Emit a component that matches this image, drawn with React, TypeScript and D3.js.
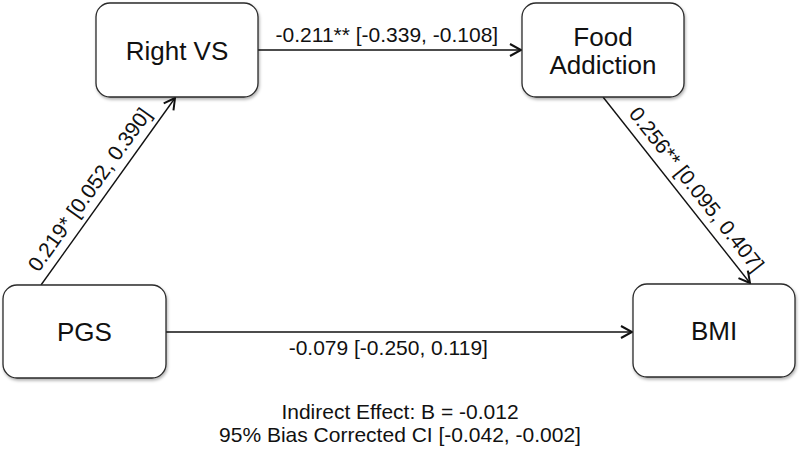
import React from "react";
import * as d3 from "d3";

// ---- data ----
const nodeIds = ["rvs", "fa", "pgs", "bmi"];
const nodeLabels = [["Right VS"], ["Food", "Addiction"], ["PGS"], ["BMI"]];
const edgeFrom = ["pgs", "rvs", "fa", "pgs"];
const edgeTo = ["rvs", "fa", "bmi", "bmi"];
const edgeLabels = [
  "0.219* [0.052, 0.390]",
  "-0.211** [-0.339, -0.108]",
  "0.256** [0.095, 0.407]",
  "-0.079 [-0.250, 0.119]",
];
const footnote = ["Indirect Effect: B = -0.012", "95% Bias Corrected CI [-0.042, -0.002]"];

// ---- layout ----
const W = 800, H = 451;
const boxes: Record<string, { x: number; y: number; w: number; h: number }> = {
  rvs: { x: 96, y: 3, w: 162, h: 94 },
  fa: { x: 522, y: 3, w: 162, h: 94 },
  pgs: { x: 3, y: 285, w: 163, h: 93 },
  bmi: { x: 633, y: 284, w: 162, h: 93 },
};
const edgeGeom: { p: [number, number, number, number]; t: number; off: number; rotate: boolean }[] = [
  { p: [41, 285, 175, 98], t: 0.46, off: 9, rotate: true },
  { p: [258, 50, 521, 50], t: 0.49, off: 8, rotate: false },
  { p: [603, 97, 750, 283], t: 0.55, off: 9, rotate: true },
  { p: [166, 332, 632, 332], t: 0.477, off: -23, rotate: false },
];
const FONT = "'Liberation Sans', Arial, Helvetica, sans-serif";

export default function App() {
  const line = d3.line<[number, number]>();
  return (
    <svg width={W} height={H} style={{ display: "block", position: "absolute", left: 0, top: 0, background: "#fff" }}>
      <defs>
        <filter id="sh" x="-10%" y="-10%" width="130%" height="140%">
          <feDropShadow dx="1" dy="2" stdDeviation="1.5" floodColor="#000" floodOpacity="0.3" />
        </filter>
        <marker id="arr" markerUnits="userSpaceOnUse" markerWidth="16" markerHeight="16" refX="12" refY="7" orient="auto" viewBox="0 0 16 14">
          <path d="M1,1 L12,7 L1,13" fill="none" stroke="#111" strokeWidth="2" strokeLinejoin="miter" />
        </marker>
      </defs>
      <rect width={W} height={H} fill="#fff" />
      {edgeGeom.map((g, i) => {
        const [x1, y1, x2, y2] = g.p;
        return (
          <path key={"e" + i} d={line([[x1, y1], [x2, y2]]) || ""} stroke="#111" strokeWidth={1.4} fill="none" markerEnd="url(#arr)" />
        );
      })}
      {nodeIds.map((id, i) => {
        const b = boxes[id];
        const lines = nodeLabels[i];
        const cx = b.x + b.w / 2, cy = b.y + b.h / 2;
        const lh = 28;
        return (
          <g key={id}>
            <rect x={b.x} y={b.y} width={b.w} height={b.h} rx={14} ry={14} fill="#fff" stroke="#2a2a2a" strokeWidth={1.3} filter="url(#sh)" />
            {lines.map((t, j) => (
              <text key={j} x={cx} y={cy + 9.5 + (j - (lines.length - 1) / 2) * lh} textAnchor="middle" fontFamily={FONT} fontSize={26} fill="#111">
                {t}
              </text>
            ))}
          </g>
        );
      })}
      {edgeGeom.map((g, i) => {
        const [x1, y1, x2, y2] = g.p;
        const ang = Math.atan2(y2 - y1, x2 - x1);
        const rot = g.rotate ? ang : 0;
        const px = x1 + (x2 - x1) * g.t, py = y1 + (y2 - y1) * g.t;
        const ux = Math.sin(rot), uy = -Math.cos(rot);
        const tx = px + ux * g.off, ty = py + uy * g.off;
        return (
          <text key={"l" + i} x={0} y={0} transform={`translate(${tx},${ty}) rotate(${(rot * 180) / Math.PI})`} textAnchor="middle" fontFamily={FONT} fontSize={21} fill="#111">
            {edgeLabels[i]}
          </text>
        );
      })}
      {footnote.map((t, i) => (
        <text key={"f" + i} x={400} y={419 + i * 23} textAnchor="middle" fontFamily={FONT} fontSize={21} fill="#111">
          {t}
        </text>
      ))}
    </svg>
  );
}
